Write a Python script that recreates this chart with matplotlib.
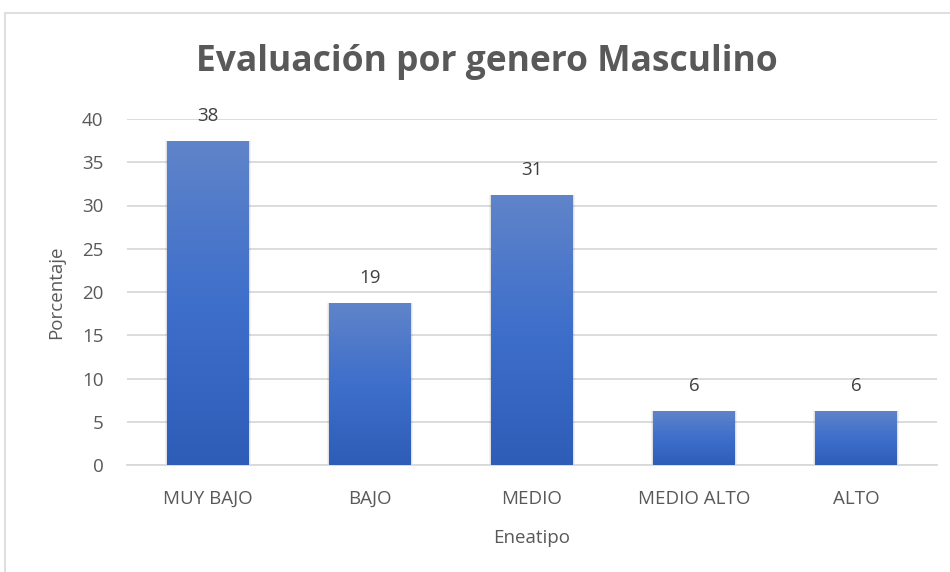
import matplotlib
matplotlib.use("Agg")
import matplotlib.pyplot as plt
import numpy as np
from matplotlib.colors import LinearSegmentedColormap
from matplotlib.patches import Rectangle

categories = ["MUY BAJO", "BAJO", "MEDIO", "MEDIO ALTO", "ALTO"]
values = [37.5, 18.75, 31.25, 6.25, 6.25]
labels = ["38", "19", "31", "6", "6"]
yticks = [0, 5, 10, 15, 20, 25, 30, 35, 40]

plt.rcParams['font.family'] = ['Open Sans', 'DejaVu Sans']
text_color = "#595959"

fig = plt.figure(figsize=(9.5, 5.72), dpi=100)
fig.patch.set_facecolor("white")
# chart border (cropped)
fig.add_artist(Rectangle((5/950, -0.1), 1.2, 1 - 13/572 + 0.1, transform=fig.transFigure,
                         fill=False, edgecolor="#d9d9d9", linewidth=1.2))

ax = fig.add_axes([127/950, 1 - 465/572, (937-127)/950, (465-119)/572])
x = np.arange(len(categories))
bars = ax.bar(x, values, width=0.506, color="none", edgecolor="none", zorder=3)

cmap = LinearSegmentedColormap.from_list("g", ["#2d5db7", "#3e6fcb", "#6084c9"])
grad = np.linspace(0, 1, 256).reshape(-1, 1)
for b in bars:
    x0, w, h = b.get_x(), b.get_width(), b.get_height()
    # soft shadow
    for k, a in [(0.012, 0.05), (0.006, 0.07)]:
        ax.add_patch(Rectangle((x0 - k, -0.05), w + 2 * k, h + 0.05, facecolor="#000000",
                               alpha=a, edgecolor="none", zorder=2))
    im = ax.imshow(grad, extent=(x0, x0 + w, 0, h), origin="lower", cmap=cmap,
                   aspect="auto", zorder=3.5)
    im.set_clip_path(b)

for xi, v, lab in zip(x, values, labels):
    ax.text(xi, v + 1.8, lab, ha="center", va="bottom", fontsize=13.5, color="#404040")

ax.set_xlim(-0.5, len(categories) - 0.5)
ax.set_ylim(0, 40)
ax.set_yticks(yticks)
ax.set_xticks(x)
ax.set_xticklabels(categories)
ax.grid(axis="y", color="#d9d9d9", linewidth=1.3, zorder=0)
ax.set_axisbelow(True)
for s in ["top", "right", "left"]:
    ax.spines[s].set_visible(False)
ax.spines["bottom"].set_color("#d9d9d9")
ax.spines["bottom"].set_linewidth(1.3)
ax.tick_params(axis="both", length=0, labelsize=13.5, colors=text_color)
ax.tick_params(axis="y", pad=17)
ax.tick_params(axis="x", pad=18)
ax.set_xlabel("Eneatipo", fontsize=13.5, color=text_color, labelpad=15)
ax.set_ylabel("Porcentaje", fontsize=13.5, color=text_color, labelpad=12)

fig.text(487/950, 1 - 62/572, "Evaluación por genero Masculino", ha="center", va="center",
         fontsize=25.5, fontweight="bold", color=text_color)

fig.savefig("out.png", dpi=100)
